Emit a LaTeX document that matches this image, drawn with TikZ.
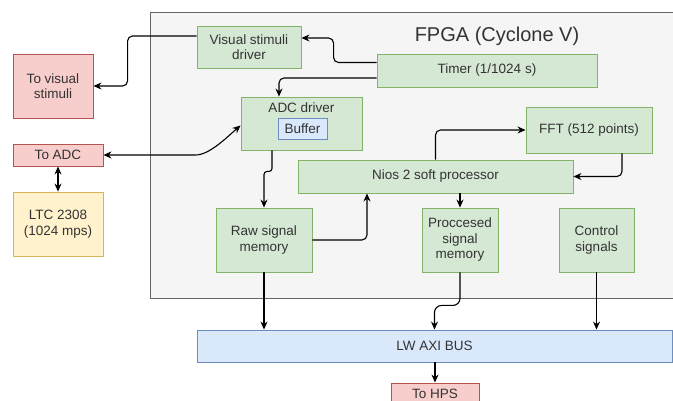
\documentclass[tikz,border=0pt]{standalone}
\usepackage{fontspec}
\setmainfont{Liberation Sans}
\usetikzlibrary{arrows.meta,calc}
\definecolor{gfill}{HTML}{D5E8D4}\definecolor{gline}{HTML}{82B366}
\definecolor{rfill}{HTML}{F8CECC}\definecolor{rline}{HTML}{B85450}
\definecolor{yfill}{HTML}{FFF2CC}\definecolor{yline}{HTML}{D6B656}
\definecolor{bfill}{HTML}{DAE8FC}\definecolor{bline}{HTML}{6C8EBF}
\definecolor{cfill}{HTML}{F5F5F5}\definecolor{cline}{HTML}{666666}
\definecolor{txt}{HTML}{333333}
\tikzset{
  box/.style={draw, line width=0.9pt, inner sep=0pt, align=center, text=txt,
    font=\fontsize{13.5}{15.5}\selectfont},
  gbox/.style={box, fill=gfill, draw=gline},
  rbox/.style={box, fill=rfill, draw=rline},
  ybox/.style={box, fill=yfill, draw=yline},
  bbox/.style={box, fill=bfill, draw=bline},
  arr/.style={line width=1.1pt, rounded corners=5pt, -{Stealth[length=8pt,width=7pt]}},
  arrb/.style={line width=1.1pt, {Stealth[length=8pt,width=7pt]}-{Stealth[length=8pt,width=7pt]}}
}
\begin{document}
\begin{tikzpicture}[x=1pt,y=-1pt]
\clip (0,0) rectangle (673,401);
\fill[white] (0,0) rectangle (673,401);
% container
\node[draw=cline, fill=cfill, line width=0.9pt, minimum width=530pt, minimum height=286pt, inner sep=0pt] (fpga) at (415,155) {};
\node[text=txt, font=\fontsize{20}{24}\selectfont] (title) at (497,36) {FPGA (Cyclone V)};

\node[gbox, minimum width=104pt, minimum height=42pt] (VSD) at (249,47) {Visual stimuli\\driver};
\node[rbox, minimum width=80pt, minimum height=64pt] (ToVis) at (53,86) {To visual\\stimuli};
\node[gbox, minimum width=220pt, minimum height=33pt] (Timer) at (487,70.5) {Timer (1/1024 s)};
\node[gbox, minimum width=121pt, minimum height=53pt] (ADC) at (301.5,123.5) {};
\node[text=txt, font=\fontsize{13.5}{15.5}\selectfont] (ADCt) at (301.5,108) {ADC driver};
\node[bbox, minimum width=49pt, minimum height=21pt] (Buf) at (302.5,128.5) {Buffer};
\node[rbox, minimum width=90pt, minimum height=22pt] (ToADC) at (58,155) {To ADC};
\node[ybox, minimum width=90pt, minimum height=64pt] (LTC) at (58,224) {LTC 2308\\(1024 mps)};
\node[gbox, minimum width=126pt, minimum height=46pt] (FFT) at (589,130) {FFT (512 points)};
\node[gbox, minimum width=275pt, minimum height=33pt] (Nios) at (435.5,176.5) {Nios 2 soft processor};
\node[gbox, minimum width=96pt, minimum height=64pt] (Raw) at (264,240) {Raw signal\\memory};
\node[gbox, minimum width=76pt, minimum height=64pt] (Proc) at (460,240) {Proccesed\\signal\\memory};
\node[gbox, minimum width=75pt, minimum height=64pt] (Ctrl) at (596.5,240) {Control\\signals};
\node[bbox, minimum width=475pt, minimum height=32pt] (AXI) at (434.5,346) {LW AXI BUS};
\node[rbox, minimum width=88pt, minimum height=22pt] (HPS) at (435,394) {To HPS};

% connectors
\draw[arr] ([yshift=8pt]Timer.west) -- ++(-43,0) |- ([yshift=9pt]VSD.east);
\draw[arr] ([yshift=-7.5pt]Timer.west) -| ([xshift=-22.5pt]ADC.north);
\draw[arr] ([yshift=11pt]VSD.west) -- ++(-69,0) |- (ToVis.east);
\draw[arrb] (ToADC.east) -- ++(92,0) .. controls +(14,0) and +(-14,12) .. ([yshift=-2pt]ADC.west);
\draw[arrb] (ToADC.south) -- (LTC.north);
\draw[arr, rounded corners=3pt] ([xshift=-29.5pt]ADC.south) -- ++(0,21) -| (Raw.north);
\draw[arr] (Raw.east) -| ([xshift=-68.5pt]Nios.south);
\draw[arr] (Nios.north) |- (FFT.west);
\draw[arr] ([xshift=33pt]FFT.south) |- (Nios.east);
\draw[arr] (Nios.south -| Proc.north) -- (Proc.north);
\draw[arr] (Raw.south) -- (Raw.south |- AXI.north);
\draw[arr, rounded corners=7pt] (Proc.south) -- ++(0,33) -| (AXI.north);
\draw[arr] (Ctrl.south) -- (Ctrl.south |- AXI.north);
\draw[arr] (AXI.south -| HPS.north) -- (HPS.north);
\end{tikzpicture}
\end{document}
